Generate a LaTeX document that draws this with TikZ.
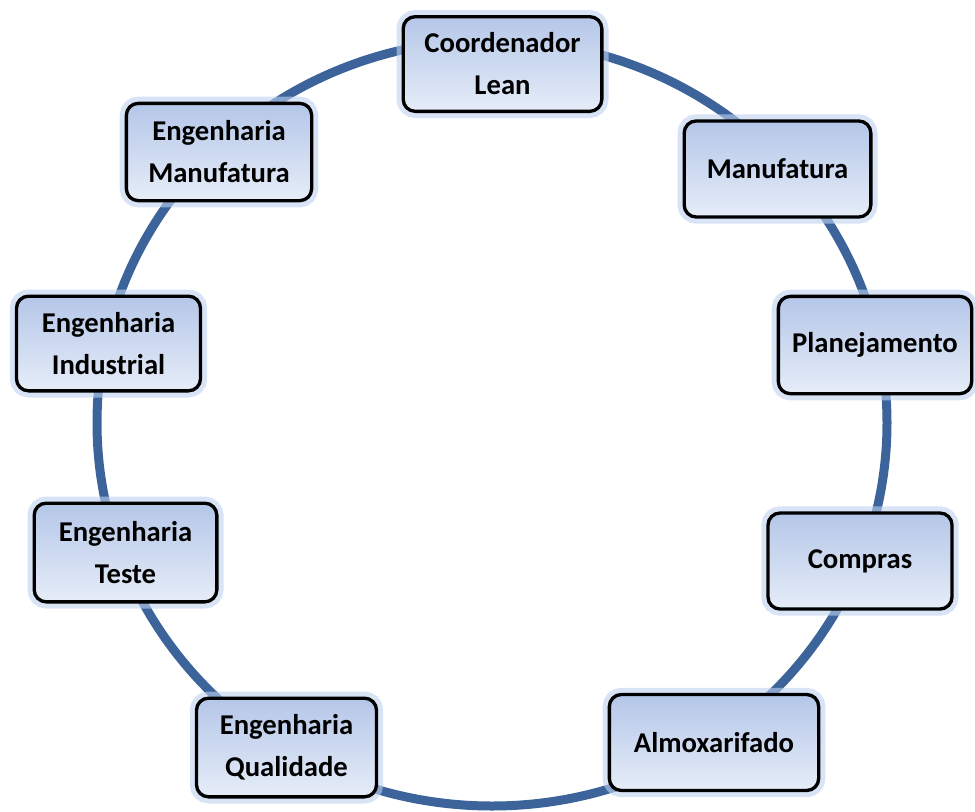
\documentclass[tikz,border=0pt]{standalone}
\usepackage{fontspec}
\setmainfont{Carlito}
\definecolor{ringblue}{RGB}{60,100,155}
\definecolor{boxtop}{RGB}{180,198,232}
\definecolor{boxbot}{RGB}{230,237,248}
\definecolor{glowblue}{RGB}{190,210,240}
\tikzset{
  unitbox/.style={draw=black, line width=2.5pt, rounded corners=9pt,
    top color=boxtop, bottom color=boxbot, align=center, inner sep=0pt,
    font=\bfseries\fontsize{21.5}{31.5}\selectfont,
    preaction={draw=glowblue, line width=10pt, opacity=0.6}},
  ringline/.style={draw=ringblue, line width=6.75pt}
}
\begin{document}
\begin{tikzpicture}[x=0.75pt,y=-0.75pt]
\useasboundingbox (0,0) rectangle (975,811);
\draw[ringline] (492,423) ellipse [x radius=395, y radius=383];
\node[unitbox, minimum width=149pt, minimum height=71pt] (coord) at (502.5,64) {Coordenador\\Lean};
\node[unitbox, minimum width=140pt, minimum height=72pt] (manuf) at (777.5,169) {Manufatura};
\node[unitbox, minimum width=145pt, minimum height=73pt] (plan) at (875,345) {Planejamento};
\node[unitbox, minimum width=138pt, minimum height=72pt] (compras) at (860,561) {Compras};
\node[unitbox, minimum width=157pt, minimum height=72pt] (almox) at (714,742.5) {Almoxarifado};
\node[unitbox, minimum width=135pt, minimum height=74pt] (qual) at (286.5,747.5) {Engenharia\\Qualidade};
\node[unitbox, minimum width=137pt, minimum height=74pt] (teste) at (125.5,552.5) {Engenharia\\Teste};
\node[unitbox, minimum width=138pt, minimum height=71pt] (indus) at (108.5,343.5) {Engenharia\\Industrial};
\node[unitbox, minimum width=139pt, minimum height=73pt] (engman) at (219,152) {Engenharia\\Manufatura};
\end{tikzpicture}
\end{document}
